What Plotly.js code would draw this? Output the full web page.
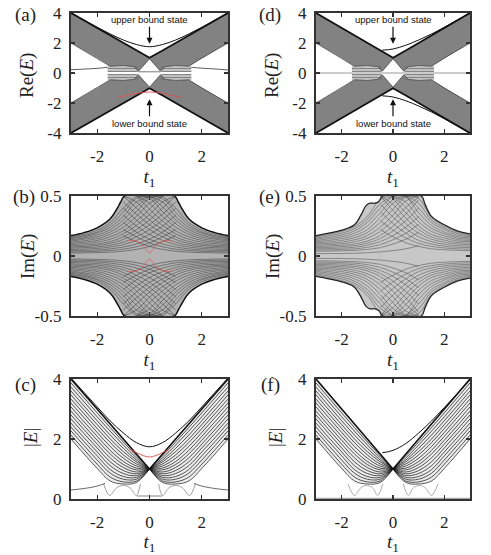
<!DOCTYPE html>
<html>
<head>
<meta charset="utf-8">
<script src="https://cdn.plot.ly/plotly-3.0.1.min.js"></script>
<style>html,body{margin:0;padding:0;background:#fff}</style>
</head>
<body>
<div id="chart" style="width:491px;height:555px"></div>
<script>
// sample grid in t1
var t13 = [-3, -2.5, -2, -1.5, -1, -0.5, 0, 0.5, 1, 1.5, 2, 2.5, 3];
var t7 = [-3, -2.5, -2, -1.5, -1, -0.5, 0];

// ---- Re(E): bulk band edges, panels (a) and (d)
var reBandTop = [4, 3.5, 3, 2.5, 2, 1.5, 1.02, 1.5, 2, 2.5, 3, 3.5, 4];
var reBandBot = [-4, -3.5, -3, -2.5, -2, -1.5, -1.02, -1.5, -2, -2.5, -3, -3.5, -4];
var reInnerX = [-3, -2.5, -2, -1.5, -1, -0.6, -0.42, 0, 0.42, 0.6, 1, 1.5, 2, 2.5, 3];
var reInnerUp = [2, 1.5, 1, 0.45, 0.5, 0.42, 0.12, 0.95, 0.12, 0.42, 0.5, 0.45, 1, 1.5, 2];
var reInnerLow = [-2, -1.5, -1, -0.45, -0.5, -0.42, -0.12, -0.95, -0.12, -0.42, -0.5, -0.45, -1, -1.5, -2];
var stripeLevels = [0.4, 0.3, 0.2, 0.1, -0.1, -0.2, -0.3, -0.4];
var stripeLeftX = [-1.6, -0.45];
var stripeRightX = [0.45, 1.6];

// (a) bound states
var aUpperBound = [4.02, 3.53, 3.05, 2.6, 2.2, 1.9, 1.75, 1.9, 2.2, 2.6, 3.05, 3.53, 4.02];
var aRedX = [-1.2, -0.8, -0.4, 0, 0.4, 0.8, 1.2];
var aRedY = [-1.6, -1.48, -1.33, -1.27, -1.33, -1.48, -1.6];
var aZeroLeftX = [-3, -2.5, -2, -1.6];
var aZeroLeftY = [0.22, 0.26, 0.31, 0.38];
var aZeroRightX = [1.6, 2, 2.5, 3];
var aZeroRightY = [0.38, 0.32, 0.27, 0.2];

// (d) bound states
var dBoundX = [-0.42, 0, 0.5, 1, 1.5, 2, 2.5, 3];
var dUpperBound = [1.52, 1.6, 1.85, 2.2, 2.6, 3.05, 3.53, 4.02];
var dLowerBound = [-1.52, -1.6, -1.85, -2.2, -2.6, -3.05, -3.53, -4.02];

// ---- Im(E), panel (b)
var bEnvX = [-3, -2.5, -2, -1.5, -1.25, -1.1, -0.95, 0.95, 1.1, 1.25, 1.5, 2, 2.5, 3];
var bEnvTop = [0.17, 0.195, 0.235, 0.31, 0.39, 0.45, 0.5, 0.5, 0.45, 0.39, 0.31, 0.235, 0.195, 0.17];
var bEnvBot = [-0.17, -0.195, -0.235, -0.31, -0.39, -0.45, -0.5, -0.5, -0.45, -0.39, -0.31, -0.235, -0.195, -0.17];
var famX = [-3, -2.5, -2, -1.5, -1, -0.5, 0, 0.5, 1];
var bFamily = [
  [0.16, 0.18, 0.215, 0.28, 0.4, 0.5],
  [0.153, 0.17, 0.2, 0.26, 0.365, 0.48, 0.5],
  [0.145, 0.16, 0.19, 0.24, 0.33, 0.45, 0.5],
  [0.135, 0.15, 0.175, 0.22, 0.3, 0.41, 0.5],
  [0.125, 0.14, 0.16, 0.2, 0.27, 0.37, 0.48, 0.5],
  [0.115, 0.127, 0.145, 0.18, 0.24, 0.33, 0.44, 0.5],
  [0.105, 0.115, 0.13, 0.16, 0.21, 0.29, 0.39, 0.5],
  [0.095, 0.103, 0.115, 0.14, 0.185, 0.255, 0.345, 0.45, 0.5],
  [0.085, 0.09, 0.1, 0.12, 0.16, 0.22, 0.3, 0.4, 0.5],
  [0.075, 0.08, 0.088, 0.105, 0.138, 0.19, 0.26, 0.35, 0.45],
  [0.065, 0.07, 0.075, 0.09, 0.115, 0.16, 0.22, 0.3, 0.4],
  [0.055, 0.058, 0.063, 0.075, 0.095, 0.13, 0.18, 0.25, 0.34],
  [0.045, 0.047, 0.05, 0.06, 0.075, 0.1, 0.14, 0.2, 0.28],
  [0.035, 0.036, 0.039, 0.046, 0.057, 0.077, 0.11, 0.16, 0.22],
  [0.025, 0.026, 0.028, 0.032, 0.04, 0.055, 0.08, 0.12, 0.17]
];
var bRedX = [-0.85, -0.6, -0.3, 0, 0.3, 0.6, 0.85];
var bRedY = [0.125, 0.13, 0.1, 0.03, 0.1, 0.13, 0.125];

// ---- Im(E), panel (e)
var eEnvX = [-3, -2.5, -2, -1.5, -1.25, -1.05, -0.9, -0.7, -0.55, -0.45, -0.38, 1.1, 1.25, 1.5, 2, 2.5, 3];
var eEnvTop = [0.17, 0.19, 0.215, 0.26, 0.34, 0.42, 0.44, 0.44, 0.455, 0.49, 0.5, 0.5, 0.43, 0.33, 0.26, 0.21, 0.185];
var eEnvBot = [-0.17, -0.19, -0.215, -0.26, -0.34, -0.42, -0.44, -0.44, -0.455, -0.49, -0.5, -0.5, -0.43, -0.33, -0.26, -0.21, -0.185];
var eLeftFamily = [
  [0.16, 0.18, 0.205, 0.245, 0.33, 0.47, 0.5],
  [0.15, 0.168, 0.19, 0.228, 0.305, 0.435, 0.5],
  [0.14, 0.155, 0.175, 0.21, 0.28, 0.4, 0.5],
  [0.13, 0.142, 0.16, 0.19, 0.25, 0.36, 0.47, 0.5],
  [0.12, 0.13, 0.145, 0.17, 0.22, 0.32, 0.44, 0.5],
  [0.11, 0.117, 0.13, 0.152, 0.195, 0.28, 0.39, 0.49, 0.5],
  [0.1, 0.105, 0.115, 0.135, 0.17, 0.24, 0.34, 0.46, 0.5],
  [0.09, 0.094, 0.102, 0.118, 0.148, 0.205, 0.295, 0.405, 0.49],
  [0.08, 0.083, 0.09, 0.1, 0.125, 0.17, 0.25, 0.35, 0.47],
  [0.07, 0.072, 0.078, 0.087, 0.107, 0.145, 0.21, 0.295, 0.4],
  [0.06, 0.062, 0.066, 0.073, 0.09, 0.12, 0.17, 0.24, 0.33],
  [0.05, 0.051, 0.054, 0.06, 0.072, 0.095, 0.135, 0.19, 0.265],
  [0.04, 0.041, 0.043, 0.047, 0.055, 0.07, 0.1, 0.14, 0.2],
  [0.02, 0.02, 0.021, 0.023, 0.027, 0.034, 0.045, 0.06, 0.085]
];
var eRightX = [3, 2.5, 2, 1.5, 1, 0.5, 0, -0.5];
var eRightFamily = [
  [0.18, 0.2, 0.25, 0.32, 0.48, 0.5],
  [0.17, 0.188, 0.235, 0.3, 0.44, 0.5],
  [0.16, 0.175, 0.22, 0.28, 0.4, 0.5],
  [0.15, 0.162, 0.2, 0.255, 0.36, 0.49, 0.5],
  [0.14, 0.15, 0.185, 0.23, 0.32, 0.45, 0.5],
  [0.13, 0.137, 0.168, 0.205, 0.285, 0.405, 0.5],
  [0.12, 0.125, 0.15, 0.18, 0.25, 0.36, 0.48],
  [0.107, 0.112, 0.132, 0.16, 0.22, 0.315, 0.43, 0.5],
  [0.095, 0.1, 0.115, 0.14, 0.19, 0.27, 0.38, 0.5],
  [0.082, 0.086, 0.098, 0.12, 0.16, 0.23, 0.325, 0.435],
  [0.07, 0.073, 0.082, 0.1, 0.13, 0.19, 0.27, 0.37],
  [0.057, 0.06, 0.067, 0.08, 0.105, 0.15, 0.215, 0.295],
  [0.045, 0.047, 0.052, 0.06, 0.08, 0.11, 0.16, 0.22]
];

// ---- |E|, panels (c) and (f): one half of the bulk lines, t1 = -3..0
var absFamily = [
  [4.0, 3.5, 3.0, 2.5, 2.0, 1.5, 1.0],
  [3.87, 3.37, 2.87, 2.38, 1.9, 1.44, 1.0],
  [3.73, 3.24, 2.74, 2.26, 1.8, 1.37, 1.0],
  [3.6, 3.1, 2.61, 2.13, 1.69, 1.3, 1.0],
  [3.47, 2.97, 2.48, 2.0, 1.58, 1.24, 1.0],
  [3.33, 2.84, 2.35, 1.88, 1.47, 1.17, 1.0],
  [3.2, 2.71, 2.22, 1.75, 1.36, 1.1, 1.0],
  [3.07, 2.57, 2.09, 1.62, 1.25, 1.03, 1.0],
  [2.93, 2.44, 1.96, 1.5, 1.15, 0.97, 1.0],
  [2.8, 2.31, 1.83, 1.37, 1.05, 0.9, 1.0],
  [2.67, 2.18, 1.7, 1.24, 0.95, 0.84, 1.0],
  [2.53, 2.04, 1.57, 1.11, 0.85, 0.78, 1.0],
  [2.4, 1.91, 1.44, 0.98, 0.75, 0.72, 1.0],
  [2.27, 1.78, 1.3, 0.86, 0.66, 0.66, 1.0],
  [2.13, 1.64, 1.16, 0.73, 0.57, 0.6, 1.0],
  [2.0, 1.5, 1.02, 0.6, 0.5, 0.55, 1.0]
];
var cArchLeftX = [-1.75, -1.53, -1.25, -1.0, -0.75, -0.5, -0.35];
var cArchY = [0.5, 0.12, 0.38, 0.45, 0.38, 0.12, 0.5];
var cArchRightX = [0.35, 0.5, 0.75, 1.0, 1.25, 1.53, 1.75];
var cZeroLeftX = [-3, -2.5, -2, -1.7];
var cZeroLeftY = [0.3, 0.35, 0.43, 0.52];
var cUpperBound = [4.03, 3.55, 3.07, 2.6, 2.2, 1.88, 1.74, 1.88, 2.2, 2.6, 3.07, 3.55, 4.03];
var cRedX = [-0.75, -0.5, -0.25, 0, 0.25, 0.5, 0.75];
var cRedY = [1.65, 1.55, 1.45, 1.4, 1.45, 1.55, 1.65];
var fArchLeftX = [-1.75, -1.5, -1.25, -1.05, -0.8, -0.6, -0.4];
var fArchY = [0.5, 0.12, 0.38, 0.45, 0.38, 0.12, 0.5];
var fUpperBound = [1.54, 1.62, 1.85, 2.2, 2.6, 3.05, 3.5, 3.97];

var xTicks = [-2, 0, 2];
var xTickText = ['-2', '0', '2'];

var traces = [];
function axId(n, p) { return n === 1 ? p : p + n; }
function line(n, xs, ys, color, width, shape) {
  traces.push({type: 'scatter', mode: 'lines', x: xs, y: ys,
    xaxis: axId(n, 'x'), yaxis: axId(n, 'y'),
    line: {color: color, width: width, shape: shape || 'linear'},
    hoverinfo: 'skip', showlegend: false});
}
function area(n, xs, ys, color) {
  traces.push({type: 'scatter', mode: 'lines', x: xs, y: ys, fill: 'toself',
    fillcolor: color, xaxis: axId(n, 'x'), yaxis: axId(n, 'y'),
    line: {width: 0}, hoverinfo: 'skip', showlegend: false});
}
function rev(a) { return a.slice().reverse(); }
function neg(a) { return a.map(function (v) { return -v; }); }

// Re(E) panels: 1 = (a), 2 = (d)
[1, 2].forEach(function (n) {
  area(n, t13.concat(rev(reInnerX)), reBandTop.concat(rev(reInnerUp)), 'rgba(40,40,40,0.58)');
  area(n, t13.concat(rev(reInnerX)), reBandBot.concat(rev(reInnerLow)), 'rgba(40,40,40,0.58)');
  line(n, t13, reBandTop, '#111', 1.8);
  line(n, t13, reBandBot, '#111', 1.8);
  line(n, reInnerX, reInnerUp, '#444', 0.8);
  line(n, reInnerX, reInnerLow, '#444', 0.8);
  stripeLevels.forEach(function (lv) {
    line(n, stripeLeftX, [lv, lv], '#666', 0.8);
    line(n, stripeRightX, [lv, lv], '#666', 0.8);
  });
});
line(1, [-0.42, 0.42], [0.08, 0.08], '#555', 0.8);
line(1, aZeroLeftX, aZeroLeftY, '#333', 0.8, 'spline');
line(1, aZeroRightX, aZeroRightY, '#333', 0.8, 'spline');
line(1, t13, aUpperBound, '#111', 1, 'spline');
line(1, aRedX, aRedY, '#e05050', 0.9, 'spline');
line(2, [-3, 3], [0, 0], '#999', 1);
line(2, dBoundX, dUpperBound, '#111', 1, 'spline');
line(2, dBoundX, dLowerBound, '#111', 1, 'spline');

// Im(E) panel (b) = 3
area(3, bEnvX.concat(rev(bEnvX)), bEnvTop.concat(rev(bEnvBot)), 'rgba(0,0,0,0.3)');
line(3, bEnvX, bEnvTop, '#111', 1.5, 'spline');
line(3, bEnvX, bEnvBot, '#111', 1.5, 'spline');
bFamily.forEach(function (ys) {
  var xs = famX.slice(0, ys.length);
  line(3, xs, ys, '#333', 0.5, 'spline');
  line(3, neg(xs), ys, '#333', 0.5, 'spline');
  line(3, xs, neg(ys), '#333', 0.5, 'spline');
  line(3, neg(xs), neg(ys), '#333', 0.5, 'spline');
});
line(3, bRedX, bRedY, '#e06060', 0.8, 'spline');
line(3, bRedX, neg(bRedY), '#e06060', 0.8, 'spline');

// Im(E) panel (e) = 4
area(4, eEnvX.concat(rev(eEnvX)), eEnvTop.concat(rev(eEnvBot)), 'rgba(0,0,0,0.22)');
line(4, eEnvX, eEnvTop, '#222', 1.3, 'spline');
line(4, eEnvX, eEnvBot, '#222', 1.3, 'spline');
eLeftFamily.forEach(function (ys) {
  var xs = famX.slice(0, ys.length);
  line(4, xs, ys, '#444', 0.5, 'spline');
  line(4, xs, neg(ys), '#444', 0.5, 'spline');
});
eRightFamily.forEach(function (ys) {
  var xs = eRightX.slice(0, ys.length);
  line(4, xs, ys, '#444', 0.5, 'spline');
  line(4, xs, neg(ys), '#444', 0.5, 'spline');
});
line(4, [-3, 3], [0, 0], '#c8c8c8', 3);
line(4, [-0.5, -0.5], [-0.45, 0.45], '#bbbbbb', 1);

// |E| panels: 5 = (c), 6 = (f)
[5, 6].forEach(function (n) {
  var top = absFamily[0], bot = absFamily[absFamily.length - 1];
  area(n, t7.concat(rev(t7)), top.concat(rev(bot)), 'rgba(0,0,0,0.08)');
  area(n, neg(t7).concat(rev(neg(t7))), top.concat(rev(bot)), 'rgba(0,0,0,0.08)');
  absFamily.forEach(function (ys, i) {
    var w = i === 0 ? 1.6 : 0.7;
    line(n, t7, ys, '#111', w, 'spline');
    line(n, neg(t7), ys, '#111', w, 'spline');
  });
});
line(5, cArchLeftX, cArchY, '#888', 0.8, 'spline');
line(5, cArchRightX, cArchY, '#888', 0.8, 'spline');
line(5, [-0.48, 0.48], [0.1, 0.1], '#777', 0.9);
line(5, cZeroLeftX, cZeroLeftY, '#444', 0.8, 'spline');
line(5, neg(cZeroLeftX), cZeroLeftY, '#444', 0.8, 'spline');
line(5, t13, cUpperBound, '#111', 1, 'spline');
line(5, cRedX, cRedY, '#e05050', 0.9, 'spline');
line(6, fArchLeftX, fArchY, '#999', 0.8, 'spline');
line(6, neg(fArchLeftX), fArchY, '#999', 0.8, 'spline');
line(6, [-3, 3], [0.02, 0.02], '#aaa', 1.2);
line(6, dBoundX, fUpperBound, '#111', 1, 'spline');

// layout
var W = 491, H = 555;
var serif = 'Liberation Serif, DejaVu Serif, serif';
function xd(l, r) { return [l / W, r / W]; }
function yd(t, b) { return [1 - b / H, 1 - t / H]; }
var panels = [
  {n: 1, x: xd(71, 228), y: yd(13, 133), yr: [-4, 4], yt: [-4, -2, 0, 2, 4], ytt: ['-4', '-2', '0', '2', '4'], title: 'Re(<i>E</i>)', tx: 27, ty: 76, lab: '(a)', lx: 25, ly: 15},
  {n: 2, x: xd(316, 470), y: yd(13, 133), yr: [-4, 4], yt: [-4, -2, 0, 2, 4], ytt: ['-4', '-2', '0', '2', '4'], title: 'Re(<i>E</i>)', tx: 272, ty: 76, lab: '(d)', lx: 270, ly: 15},
  {n: 3, x: xd(71, 228), y: yd(196, 316), yr: [-0.5, 0.5], yt: [-0.5, 0, 0.5], ytt: ['-0.5', '0', '0.5'], title: 'Im(<i>E</i>)', tx: 28, ty: 257, lab: '(b)', lx: 24, ly: 197},
  {n: 4, x: xd(316, 470), y: yd(196, 316), yr: [-0.5, 0.5], yt: [-0.5, 0, 0.5], ytt: ['-0.5', '0', '0.5'], title: 'Im(<i>E</i>)', tx: 273, ty: 257, lab: '(e)', lx: 269, ly: 197},
  {n: 5, x: xd(71, 228), y: yd(379, 499), yr: [0, 4], yt: [0, 2, 4], ytt: ['0', '2', '4'], title: '|<i>E</i>|', tx: 30, ty: 438, lab: '(c)', lx: 25, ly: 385},
  {n: 6, x: xd(316, 470), y: yd(379, 499), yr: [0, 4], yt: [0, 2, 4], ytt: ['0', '2', '4'], title: '|<i>E</i>|', tx: 275, ty: 438, lab: '(f)', lx: 270, ly: 385}
];

var layout = {
  width: W, height: H,
  margin: {l: 0, r: 0, t: 0, b: 0},
  paper_bgcolor: '#fff', plot_bgcolor: '#fff',
  showlegend: false,
  annotations: [],
  font: {family: serif, color: '#222'}
};
var common = {
  ticks: 'inside', ticklen: 4, tickwidth: 1.3, tickcolor: '#333',
  showline: true, mirror: 'ticks', linewidth: 2.2, linecolor: '#333',
  showgrid: false, zeroline: false, fixedrange: true,
  tickfont: {family: serif, size: 17, color: '#222'}
};
panels.forEach(function (p) {
  var xa = Object.assign({}, common, {
    domain: p.x, anchor: axId(p.n, 'y'), range: [-3, 3],
    tickmode: 'array', tickvals: xTicks, ticktext: xTickText, ticklabelstandoff: 6,
    title: {text: '<i>t</i><sub>1</sub>', font: {family: serif, size: 19, color: '#222'}, standoff: 4}
  });
  var ya = Object.assign({}, common, {
    domain: p.y, anchor: axId(p.n, 'x'), range: p.yr,
    tickmode: 'array', tickvals: p.yt, ticktext: p.ytt, ticklabelstandoff: 4
  });
  layout[p.n === 1 ? 'xaxis' : 'xaxis' + p.n] = xa;
  layout[p.n === 1 ? 'yaxis' : 'yaxis' + p.n] = ya;
  // y-axis title, rotated
  layout.annotations.push({text: p.title, xref: 'paper', yref: 'paper', x: p.tx / W, y: 1 - p.ty / H,
    xanchor: 'center', yanchor: 'middle', textangle: -90, showarrow: false,
    font: {family: serif, size: 19, color: '#222'}});
  // panel letter
  layout.annotations.push({text: p.lab, xref: 'paper', yref: 'paper', x: p.lx / W, y: 1 - p.ly / H,
    xanchor: 'center', yanchor: 'middle', showarrow: false,
    font: {family: serif, size: 19, color: '#222'}});
});

var sans = 'Liberation Sans, Arial, sans-serif';
[['x', 'y'], ['x2', 'y2']].forEach(function (r) {
  layout.annotations.push({text: 'upper bound state', xref: r[0], yref: r[1], x: 0, y: 1.95,
    ax: 0, ay: -24, showarrow: true, arrowhead: 2, arrowsize: 1, arrowwidth: 1.2, arrowcolor: '#111',
    font: {family: sans, size: 9.5, color: '#111'}});
  layout.annotations.push({text: 'lower bound state', xref: r[0], yref: r[1], x: 0, y: -1.75,
    ax: 0, ay: 24, showarrow: true, arrowhead: 2, arrowsize: 1, arrowwidth: 1.2, arrowcolor: '#111',
    font: {family: sans, size: 9.5, color: '#111'}});
});

Plotly.newPlot('chart', traces, layout, {staticPlot: true});
</script>
</body>
</html>
